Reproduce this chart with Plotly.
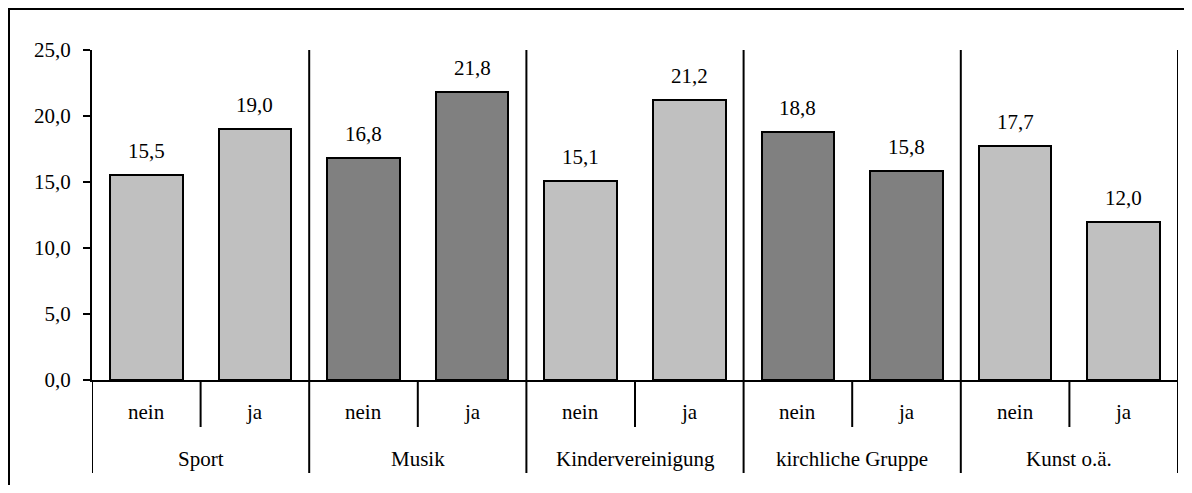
import plotly.graph_objects as go

# Daten
groups = ["Sport", "Musik", "Kindervereinigung", "kirchliche Gruppe", "Kunst o.ä."]
answers = ["nein", "ja"]
values = [15.5, 19.0, 16.8, 21.8, 15.1, 21.2, 18.8, 15.8, 17.7, 12.0]
group_colors = ["#C0C0C0", "#808080", "#C0C0C0", "#808080", "#C0C0C0"]
y_ticks = [0, 5, 10, 15, 20, 25]

FONT = "Times New Roman, Liberation Serif, DejaVu Serif, serif"
FS = 21
OFF = 8  # Body-Rand der HTML-Seite
W, H = 1192 - 2 * OFF, 493 - 2 * OFF
# Plotbereich in Seitenpixeln: x 92..1178, y 50..380
ML, MT = 92 - OFF, 50 - OFF
MR, MB = W - (1178 - OFF), H - (380 - OFF)
PW, PH = W - ML - MR, H - MT - MB


def py(pix):
    # Seitenpixel-y -> paper-Koordinate
    return (H - MB - (pix - OFF)) / PH


def px_(pix):
    return (pix - OFF - ML) / PW


n_sub = len(answers)
xs = list(range(len(values)))
bar_colors = [group_colors[i // n_sub] for i in xs]

fig = go.Figure(
    go.Bar(
        x=xs,
        y=values,
        width=0.67,
        marker=dict(color=bar_colors, line=dict(color="black", width=2)),
        hoverinfo="skip",
    )
)

f = dict(family=FONT, size=FS, color="black")
ann = []
for x, v in zip(xs, values):
    ann.append(dict(x=x, y=v, text=f"{v:.1f}".replace(".", ","), showarrow=False,
                    yanchor="bottom", yshift=10, font=f))
for gi, g in enumerate(groups):
    for si, a in enumerate(answers):
        ann.append(dict(x=gi * n_sub + si, y=py(412), yref="paper", text=a,
                        showarrow=False, yanchor="middle", font=f))
    ann.append(dict(x=gi * n_sub + (n_sub - 1) / 2, y=py(459), yref="paper", text=g,
                    showarrow=False, yanchor="middle", font=f))

line = dict(color="black", width=2)
shapes = []
# Trennstriche nein|ja
for gi in range(len(groups)):
    x = gi * n_sub + 0.5
    shapes.append(dict(type="line", x0=x, x1=x, y0=0, y1=py(427), xref="x", yref="paper", line=line))
# Gruppentrenner
for gi in range(1, len(groups) + 1):
    x = gi * n_sub - 0.5
    shapes.append(dict(type="line", x0=x, x1=x, y0=1, y1=py(473), xref="x", yref="paper", line=line))
shapes.append(dict(type="line", x0=-0.5, x1=-0.5, y0=0, y1=py(473), xref="x", yref="paper", line=line))
# Rahmen
shapes.append(dict(type="rect", x0=px_(9), x1=px_(1230), y0=py(9), y1=py(530),
                   xref="paper", yref="paper", line=line, layer="above"))

fig.update_layout(
    width=W, height=H,
    margin=dict(l=ML, r=MR, t=MT, b=MB),
    plot_bgcolor="white", paper_bgcolor="white",
    font=f,
    separators=",.",
    showlegend=False,
    bargap=0,
    annotations=ann,
    shapes=shapes,
    xaxis=dict(range=[-0.5, len(values) - 0.5], showgrid=False, zeroline=False,
               showticklabels=False, ticks="", showline=True, linecolor="black", linewidth=2),
    yaxis=dict(range=[0, 25], tickvals=y_ticks, tickformat=".1f", showgrid=False,
               zeroline=False, showline=True, linecolor="black", linewidth=2,
               ticks="outside", ticklen=7, tickwidth=2, tickcolor="black",
               ticklabelstandoff=8, tickfont=f),
)

fig.write_html("out.html")
